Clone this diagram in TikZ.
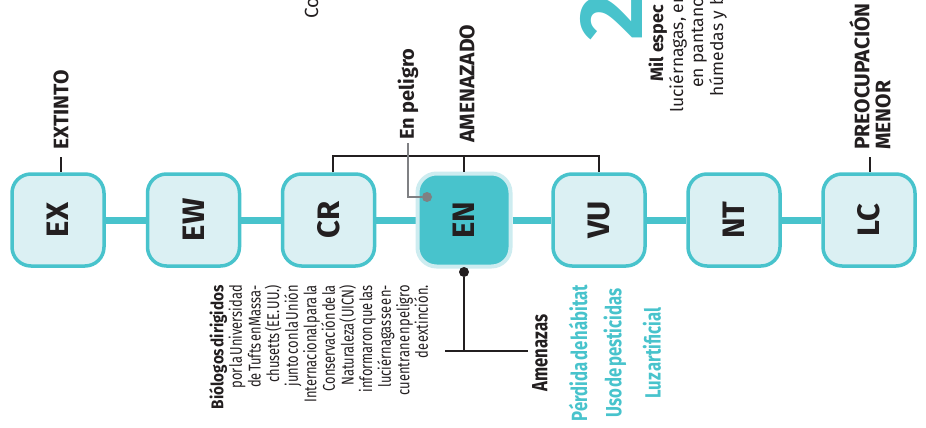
\documentclass[tikz,border=0pt]{standalone}
\usepackage{fontspec}
\usepackage{graphicx}
\setmainfont{Fira Sans}
\newfontfamily\narrowfont[FakeStretch=0.76,WordSpace=0.35]{Fira Sans}
\newfontfamily\midfont[FakeStretch=0.9,WordSpace=0.35]{Fira Sans}
\usetikzlibrary{positioning}
\pgfdeclarelayer{bg}
\pgfsetlayers{bg,main}
\definecolor{iucnteal}{HTML}{48C3CC}
\definecolor{iucnpale}{HTML}{DBF0F3}
\definecolor{iucnhalo}{HTML}{CDECF0}
\definecolor{ink}{HTML}{231F20}
\definecolor{pointer}{HTML}{7F8083}
\tikzset{
    status/.style={rectangle, rounded corners=19pt, draw=iucnteal, fill=iucnpale, line width=3.5pt,
        minimum size=92pt, inner sep=0pt, text=ink, font=\bfseries\fontsize{31}{31}\selectfont},
    current/.style={status, fill=iucnteal, draw=iucnhalo, line width=4pt, minimum size=93pt},
    link/.style={iucnteal, line width=7pt},
    tick/.style={ink, line width=2pt},
    greyline/.style={pointer, line width=2pt},
    toplbl/.style={rotate=90, anchor=west, inner xsep=7pt, inner ysep=0pt, text=ink,
        font=\bfseries\fontsize{21}{21}\selectfont},
    threat/.style={rotate=90, inner sep=0pt, text=iucnteal, font=\narrowfont\bfseries\fontsize{22}{22}\selectfont},
    sidetext/.style={rotate=90, anchor=base west, inner sep=0pt, text=ink, font=\fontsize{17.5}{17.5}\selectfont},
    greydot/.style={circle, fill=pointer, minimum size=10pt, inner sep=0pt},
    blackdot/.style={circle, fill=ink, minimum size=10pt, inner sep=0pt}
}

\begin{document}
\begin{tikzpicture}[x=1pt, y=-1pt]
        \useasboundingbox (0,0) rectangle (926,428);
        \clip (0,0) rectangle (926,428);
        % categorias
        \node (ex) [status] at (58,220) {\rotatebox{90}{EX}};
        \node (ew) [status] at (193.5,220) {\rotatebox{90}{EW}};
        \node (cr) [status] at (328.5,220) {\rotatebox{90}{CR}};
        \node (en) [current] at (464,220) {\rotatebox{90}{EN}};
        \node (vu) [status] at (599,220) {\rotatebox{90}{VU}};
        \node (nt) [status] at (734,220) {\rotatebox{90}{NT}};
        \node (lc) [status] at (869,220) {\rotatebox{90}{LC}};
        \begin{pgfonlayer}{bg}
                \draw (ex) edge [link] (ew);
                \draw (ew) edge [link] (cr);
                \draw (cr) edge [link] (en);
                \draw (en) edge [link] (vu);
                \draw (vu) edge [link] (nt);
                \draw (nt) edge [link] (lc);
        \end{pgfonlayer}
        % etiquetas de arriba
        \node (extinto) [toplbl] at (61,157) {EXTINTO};
        \draw [tick] (extinto.west) -- (extinto.west |- ex.north);
        \node (amenazado) [toplbl] at (467,150) {AMENAZADO};
        \coordinate (brk) at ([yshift=16pt]en.north);
        \draw [tick] ([xshift=4.5pt]cr.north) |- (brk) -| (vu.north);
        \draw [tick] (en.north) -- (brk);
        \node (gdot) [greydot] at (427,197) {};
        \node (peligro) [toplbl, inner xsep=3pt, font=\bfseries\fontsize{20}{20}\selectfont] at (408,143) {En peligro};
        \draw [greyline] (peligro.west) |- (gdot);
        \node (menor) [toplbl, align=left] at (870,157) {PREOCUPACIÓN\\MENOR};
        \draw [tick] (menor.west) -- (menor.west |- lc.north);
        % amenazas
        \node (endot) [blackdot] at (464,272) {};
        \coordinate (fork) at (464,351);
        \coordinate (forkl) at (445,351);
        \coordinate (forkr) at (528,351);
        \draw [tick] (endot) -- (fork);
        \draw [tick] (forkl) -- (forkr);
        \node (amenazas) [threat, text=ink] at (540,353) {Amenazas};
        \node (habitat) [threat] at (578,353) {Pérdida de hábitat};
        \node (pesticidas) [threat] at (615,353) {Uso de pesticidas};
        \node (luz) [threat] at (652,353) {Luz artificial};
        % nota
        \node (nota) [rotate=90, anchor=north east, align=flush right, text width=132pt, inner sep=0pt, text=ink,
                font=\narrowfont\fontsize{17}{18.6}\selectfont] at (209,285)
                {{\midfont\bfseries Biólogos dirigidos}\\por la Universidad\\de Tufts en Massa-\\chusetts (EE. UU.)\\junto con la Unión\\Internacional para la\\Conservación de la\\Naturaleza (UICN)\\informaron que las\\luciérnagas se en-\\cuentran en peligro\\de extinción.};
        % texto cortado arriba
        \node (co) [sidetext, font=\fontsize{19}{19}\selectfont] at (318,19) {Co};
        \node (cifra) [rotate=90, anchor=base west, inner sep=0pt, text=iucnteal,
                font=\bfseries\fontsize{90}{90}\selectfont] at (642,41) {2};
        \node (mil) [sidetext, font=\bfseries\fontsize{18}{18}\selectfont] at (663,82) {Mil espec};
        \node (luci) [sidetext] at (683,113) {luciérnagas, en};
        \node (pant) [sidetext] at (703,88) {en pantano};
        \node (hum) [sidetext] at (723,97) {húmedas y b};
\end{tikzpicture}
\end{document}
